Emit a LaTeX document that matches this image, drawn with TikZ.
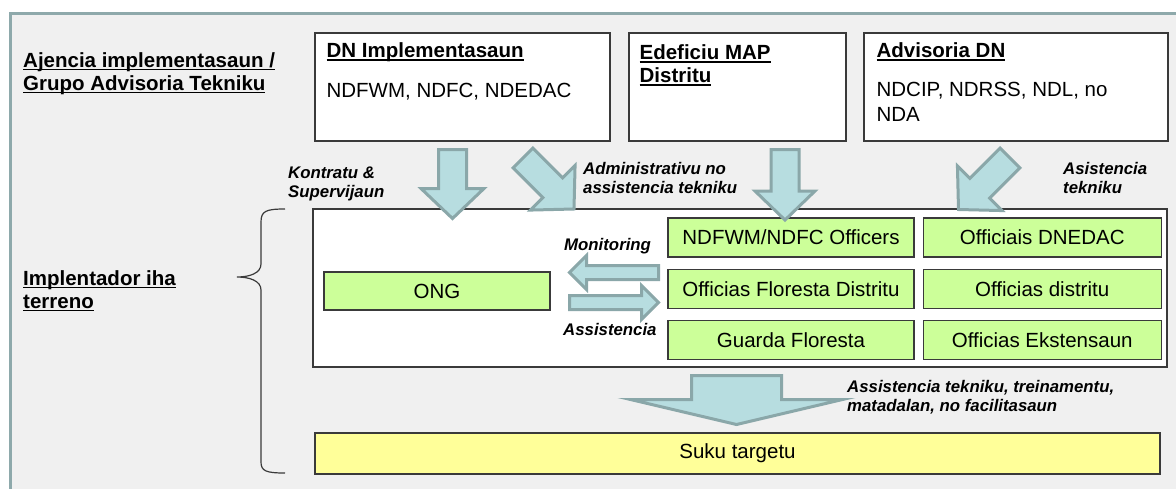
\documentclass[tikz,border=0pt]{standalone}
\usepackage{fontspec}
\setmainfont{Liberation Sans}
\usepackage{tikz}
\usetikzlibrary{calc}
\usetikzlibrary{positioning}

\definecolor{FrameGray}{HTML}{8EA9AB}
\definecolor{BackGray}{HTML}{F0F0F0}
\definecolor{ArrowFill}{HTML}{B7DDE0}
\definecolor{ArrowLine}{HTML}{8AA7A9}
\definecolor{BoxGreen}{HTML}{CCFF99}
\definecolor{BoxYellow}{HTML}{FFFF99}
\definecolor{BoxLine}{HTML}{3A3A3A}

% underlined heading text
\newcommand{\Uline}[1]{\setbox0=\hbox{#1}\rlap{\rule[-3.2pt]{\wd0}{1.5pt}}\box0}

% block arrow: tail, tip, half shaft, half head, head length
\newcommand{\BlockArrow}[5]{%
\coordinate (hb) at ($(#2)!#5!(#1)$);
\draw[ArrowBody] ($(#1)!#3!90:(#2)$) -- ($(hb)!#3!90:(#2)$) -- ($(hb)!#4!90:(#2)$) -- (#2)
 -- ($(hb)!#4!-90:(#2)$) -- ($(hb)!#3!-90:(#2)$) -- ($(#1)!#3!-90:(#2)$) -- cycle;
}

\begin{document}
\begin{tikzpicture}[
x=1pt, y=-1pt,
TopBoxes/.style={draw=BoxLine,fill=white,line width=1.2pt,inner sep=0pt,minimum height=108pt},
GreenBoxes/.style={draw=BoxLine,fill=BoxGreen,line width=1.2pt,inner sep=0pt,minimum height=39pt,font=\fontsize{20.5}{24}\selectfont},
Headings/.style={inner sep=0pt,anchor=base west,align=left,font=\bfseries\fontsize{20.5}{23}\selectfont},
BodyText/.style={inner sep=0pt,anchor=base west,align=left,font=\fontsize{20.5}{25}\selectfont},
ArrowLabels/.style={inner sep=0pt,anchor=base west,align=left,font=\bfseries\itshape\fontsize{16.8}{19}\selectfont},
ArrowBody/.style={fill=ArrowFill,draw=ArrowLine,line width=3pt},
BraceLine/.style={draw=BoxLine,line width=1.2pt}
]
\useasboundingbox (0,0) rectangle (1176,488);
\clip (0,0) rectangle (1176,488);
\fill[white] (0,0) rectangle (1176,488);

% frame
\draw[draw=FrameGray,fill=BackGray,line width=3pt] (10,13) rectangle (1200,510);

% left labels (multi-line nodes sit on their last line)
\node[Headings] (AgLabel) at (23,90) {\Uline{Ajencia implementasaun /}\\\Uline{Grupo Advisoria Tekniku}};
\node[Headings] (ImLabel) at (23,308) {\Uline{Implentador iha}\\\Uline{terreno}};

% top row
\node[TopBoxes,minimum width=295pt] (DNImpl) at (462.5,87) {};
\node[TopBoxes,minimum width=217pt] (EdefMAP) at (737.5,87) {};
\node[TopBoxes,minimum width=304pt] (AdvDN) at (1016,87) {};

\node[Headings] at ($(DNImpl.north west)+(12,25)$) {\Uline{DN Implementasaun}};
\node[BodyText] at ($(DNImpl.north west)+(12,65)$) {NDFWM, NDFC, NDEDAC};
\node[Headings] at ($(EdefMAP.north west)+(11,50)$) {\Uline{Edeficiu MAP}\\\Uline{Distritu}};
\node[Headings] at ($(AdvDN.north west)+(13,25)$) {\Uline{Advisoria DN}};
\node[BodyText] at ($(AdvDN.north west)+(13,89)$) {NDCIP, NDRSS, NDL, no\\NDA};

% field level
\node[draw=BoxLine,fill=white,line width=1.2pt,minimum width=854pt,minimum height=158pt] (Field) at (740,288) {};
\node[GreenBoxes,minimum width=226pt,minimum height=38pt] (ONG) at (437,291) {ONG};

\node[GreenBoxes,minimum width=246pt] (NDFWM) at (791,237.5) {NDFWM/NDFC Officers};
\node[GreenBoxes,minimum width=246pt,below=11pt of NDFWM] (OFD) {Officias Floresta Distritu};
\node[GreenBoxes,minimum width=246pt,below=11pt of OFD] (Guarda) {Guarda Floresta};
\node[GreenBoxes,minimum width=238pt,right=8pt of NDFWM] (DNEDAC) {Officiais DNEDAC};
\node[GreenBoxes,minimum width=238pt,right=8pt of OFD] (ODis) {Officias distritu};
\node[GreenBoxes,minimum width=238pt,right=8pt of Guarda] (OEks) {Officias Ekstensaun};

\node[draw=BoxLine,fill=BoxYellow,line width=1.2pt,minimum width=845pt,minimum height=41pt,font=\fontsize{20.5}{24}\selectfont] (Suku) at (737.5,453.5) {Suku targetu};

% brace
\draw[BraceLine] (285,209) .. controls (266,209) and (261,211) .. (261,222) -- (261,264)
 .. controls (261,273) and (250,277) .. (237,277) .. controls (250,277) and (261,281) .. (261,290)
 -- (261,462) .. controls (261,471) and (266,473) .. (285,473);

% arrows
\coordinate (KonTail) at (452.5,149.5);
\coordinate (KonTip) at (452.5,218.5);
\coordinate (AdmTail) at (523,158);
\coordinate (AdmTip) at (574,209);
\coordinate (EdfTail) at (785,149.5);
\coordinate (EdfTip) at (785,220);
\coordinate (AsiTail) at (1010,158);
\coordinate (AsiTip) at (958.5,209.5);
\coordinate (MonTail) at (658.5,272.5);
\coordinate (MonTip) at (569.5,272.5);
\coordinate (AssTail) at (569.5,302.5);
\coordinate (AssTip) at (658.5,302.5);
\coordinate (BigTail) at (736.5,375.5);
\coordinate (BigTip) at (736.5,424.5);

\BlockArrow{KonTail}{KonTip}{14pt}{31.5pt}{30pt}
\BlockArrow{AdmTail}{AdmTip}{14pt}{31.5pt}{30pt}
\BlockArrow{EdfTail}{EdfTip}{14pt}{30pt}{29pt}
\BlockArrow{AsiTail}{AsiTip}{14pt}{31.5pt}{30pt}
\BlockArrow{MonTail}{MonTip}{7pt}{17pt}{17pt}
\BlockArrow{AssTail}{AssTip}{7pt}{17pt}{17pt}
\BlockArrow{BigTail}{BigTip}{45pt}{106pt}{25pt}

% arrow labels
\node[ArrowLabels] at (288,197) {Kontratu \&\\Supervijaun};
\node[ArrowLabels] at (583,193) {Administrativu no\\assistencia tekniku};
\node[ArrowLabels] at (1063,193) {Asistencia\\tekniku};
\node[ArrowLabels] at (564,250) {Monitoring};
\node[ArrowLabels] at (563,335) {Assistencia};
\node[ArrowLabels] at (847,411) {Assistencia tekniku, treinamentu,\\matadalan, no facilitasaun};

\end{tikzpicture}
\end{document}
